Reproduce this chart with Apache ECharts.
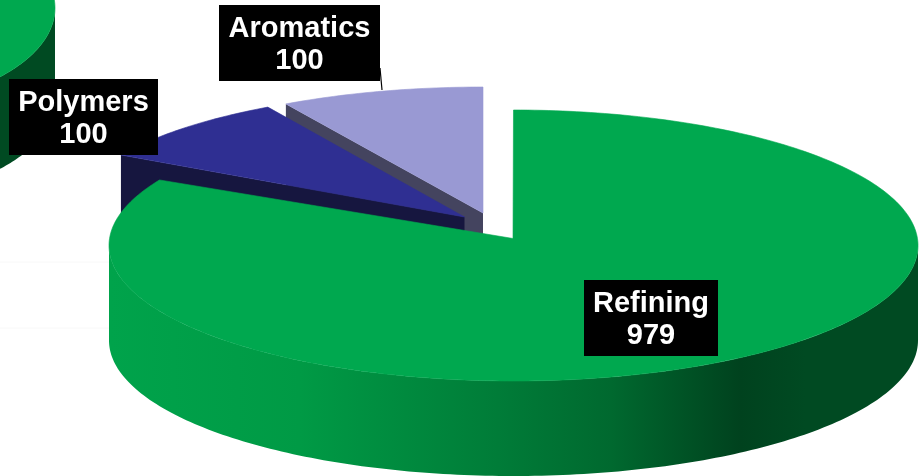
<!DOCTYPE html>
<html><head><meta charset="utf-8">
<style>html,body{margin:0;padding:0;background:#fff}#c{width:922px;height:476px}</style>
<script src="https://cdn.jsdelivr.net/npm/echarts@6/dist/echarts.min.js"></script>
</head><body><div id="c"></div>
<script>
const categories = ['Refining', 'Polymers', 'Aromatics'];
const values = [979, 100, 100];

const THICK = 95;
const sliceLayout = {
  Refining:  {cx:513.5, cy:245.5, rx:404.5, ry:135.5, ax:513, ay:238.5, top:'#00a84f', cut:'#00a84f', z:30},
  Polymers:  {cx:471, cy:216.5, rx:400, ry:127, ax:464.5, ay:217, top:'#2f2f92', cut:'#16163f', z:20},
  Aromatics: {cx:483, cy:209, rx:388, ry:122, ax:483, ay:213, top:'#9999d3', cut:'#44445f', z:10}
};
const labelLayout = {
  Refining:  {x:584, y:280, w:134, h:76},
  Polymers:  {x:9, y:79, w:149, h:76},
  Aromatics: {x:219, y:5, w:161, h:76}
};
const neighbourDisc = {cx:-145, cy:8, rx:200, ry:100, thick:92};
const wallGradient = {type:'linear', x:110, y:0, x2:918, y2:0, global:true, colorStops:[
  {offset:0, color:'#00a34b'},
  {offset:0.235, color:'#009a45'},
  {offset:0.48, color:'#007c38'},
  {offset:0.62, color:'#00692f'},
  {offset:0.78, color:'#00421e'},
  {offset:0.86, color:'#004a22'},
  {offset:1, color:'#004a22'}
]};

const total = values.reduce((a, b) => a + b, 0);
const spans = [];
values.reduce((acc, v) => { const e = acc + v / total * 360; spans.push([acc, e]); return e; }, 0);

function pt(l, deg) {
  const r = deg * Math.PI / 180;
  return [l.cx + l.rx * Math.sin(r), l.cy - l.ry * Math.cos(r)];
}
function arc(l, a, b) {
  const out = [], n = Math.max(2, Math.ceil(Math.abs(b - a)));
  for (let i = 0; i <= n; i++) out.push(pt(l, a + (b - a) * i / n));
  return out;
}
const poly = (points, fill, z2, edge) => ({type:'polygon', shape:{points}, z2, silent:true,
  style: edge ? {fill, stroke:fill, lineWidth:0.6} : {fill, stroke:null}});
const down = (p, t) => [p[0], p[1] + (t || THICK)];

function renderSlice(params, api) {
  const i = params.dataIndex;
  const name = categories[i], l = sliceLayout[name], a = spans[i][0], b = spans[i][1];
  const apex = [l.ax, l.ay], children = [];
  const start = pt(l, a);
  if (name === 'Refining') {
    const front = arc(l, 90, 270);
    children.push(poly(front.concat(front.map(p => down(p)).reverse()), wallGradient, l.z));
  } else {
    // the cut face turned towards the viewer, along the slice's leading edge
    children.push(poly([start, apex, down(apex), down(start)], l.cut, l.z));
  }
  children.push(poly([apex].concat(arc(l, a, b)), l.top, l.z + 1, true));
  return {type:'group', children};
}
function renderNeighbour() {
  const l = neighbourDisc, front = arc(l, 90, 270);
  return {type:'group', children:[
    poly(front.concat(front.map(p => down(p, l.thick)).reverse()), '#004a22', 1),
    poly(arc(l, 0, 360), '#00a84f', 2, true)
  ]};
}
function renderLabel(params, api) {
  const name = categories[params.dataIndex], b = labelLayout[name];
  return {type:'group', children:[
    {type:'rect', shape:{x:b.x, y:b.y, width:b.w, height:b.h}, z2:50, style:{fill:'#000'}},
    {type:'text', z2:51, style:{x:b.x + b.w / 2, y:b.y + b.h / 2 + 2, text:name + '\n' + values[params.dataIndex],
      fill:'#fff', align:'center', verticalAlign:'middle', lineHeight:32,
      font:'bold 29px "Liberation Sans", Arial, sans-serif'}}
  ]};
}

const chart = echarts.init(document.getElementById('c'), null, {renderer:'canvas'});
chart.setOption({
  animation:false,
  backgroundColor:'#fff',
  graphic:[
    {type:'line', shape:{x1:0, y1:262, x2:110, y2:262}, style:{stroke:'#f8f8f8', lineWidth:1}, z:0},
    {type:'line', shape:{x1:0, y1:328, x2:110, y2:328}, style:{stroke:'#f8f8f8', lineWidth:1}, z:0}
  ],
  series:[
    {type:'custom', coordinateSystem:'none', data:[0], renderItem:renderNeighbour, silent:true, z:2},
    {type:'custom', coordinateSystem:'none', data:values.map((v,i)=>({name:categories[i], value:v})), renderItem:renderSlice, silent:true, z:3},
    {type:'custom', coordinateSystem:'none', data:values.map((v,i)=>({name:categories[i], value:v})), renderItem:renderLabel, silent:true, z:5},
    {type:'custom', coordinateSystem:'none', data:[0], silent:true, z:4, renderItem:()=>({type:'polyline',
      shape:{points:[[380,68],[382,90]]}, style:{stroke:'#000', lineWidth:1.2, fill:null}})}
  ]
});
</script></body></html>
